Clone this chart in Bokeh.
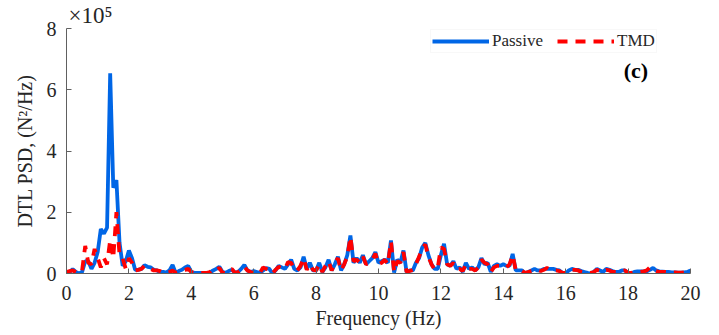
from bokeh.plotting import figure
from bokeh.models import Range1d, Label, Legend, LegendItem, FixedTicker, Title
from bokeh.embed import file_html
from bokeh.resources import INLINE

# Frequency axis (Hz), 0.1 Hz resolution
freq = [round(i * 0.1, 1) for i in range(201)]

# DTL PSD in units of 1e5 N^2/Hz
passive = [
    0.02, 0.05, 0.14, 0.05, 0.00, 0.05, 0.40, 0.40, 0.15, 0.35,
    0.70, 1.45, 1.30, 1.50, 6.54, 2.80, 3.05, 1.00, 0.25, 0.40,
    0.75, 0.50, 0.12, 0.12, 0.15, 0.27, 0.22, 0.20, 0.12, 0.10,
    0.05, 0.05, 0.03, 0.10, 0.28, 0.02, 0.08, 0.12, 0.20, 0.25,
    0.05, 0.02, 0.02, 0.02, 0.02, 0.02, 0.03, 0.10, 0.15, 0.22,
    0.05, 0.02, 0.08, 0.12, 0.03, 0.05, 0.15, 0.28, 0.10, 0.05,
    0.08, 0.05, 0.02, 0.10, 0.18, 0.15, 0.00, 0.10, 0.25, 0.20,
    0.15, 0.30, 0.45, 0.15, 0.10, 0.20, 0.55, 0.15, 0.35, 0.10,
    0.10, 0.35, 0.05, 0.20, 0.45, 0.10, 0.30, 0.55, 0.10, 0.30,
    0.60, 1.24, 0.35, 0.50, 0.35, 0.60, 0.30, 0.40, 0.50, 0.70,
    0.35, 0.40, 0.45, 0.35, 1.08, 0.03, 0.45, 0.35, 0.75, 0.05,
    0.10, 0.10, 0.35, 0.50, 0.85, 1.00, 0.60, 0.30, 0.15, 0.15,
    0.60, 0.97, 0.30, 0.25, 0.40, 0.15, 0.20, 0.05, 0.35, 0.15,
    0.20, 0.10, 0.20, 0.50, 0.30, 0.35, 0.05, 0.25, 0.30, 0.25,
    0.30, 0.25, 0.25, 0.64, 0.10, 0.10, 0.10, 0.00, 0.05, 0.10,
    0.15, 0.10, 0.10, 0.15, 0.15, 0.15, 0.15, 0.12, 0.10, 0.02,
    0.00, 0.10, 0.15, 0.12, 0.12, 0.08, 0.05, 0.02, 0.00, 0.05,
    0.15, 0.10, 0.05, 0.15, 0.12, 0.08, 0.05, 0.05, 0.10, 0.10,
    0.02, 0.00, 0.05, 0.07, 0.07, 0.07, 0.07, 0.12, 0.18, 0.10,
    0.07, 0.06, 0.05, 0.05, 0.04, 0.04, 0.03, 0.03, 0.04, 0.05,
    0.10,
]

tmd = [
    0.05, 0.08, 0.10, 0.05, 0.00, 0.10, 0.90, 0.35, 0.30, 0.80,
    0.50, 0.20, 0.50, 0.30, 1.10, 0.50, 2.00, 0.60, 0.50, 0.15,
    0.50, 0.35, 0.10, 0.12, 0.15, 0.25, 0.20, 0.15, 0.10, 0.10,
    0.08, 0.03, 0.02, 0.05, 0.10, 0.02, 0.05, 0.10, 0.12, 0.15,
    0.05, 0.02, 0.02, 0.02, 0.02, 0.02, 0.05, 0.15, 0.12, 0.18,
    0.03, 0.02, 0.10, 0.15, 0.02, 0.05, 0.12, 0.22, 0.10, 0.05,
    0.00, 0.02, 0.02, 0.20, 0.15, 0.12, 0.00, 0.12, 0.22, 0.18,
    0.15, 0.37, 0.35, 0.12, 0.10, 0.25, 0.50, 0.12, 0.30, 0.12,
    0.10, 0.30, 0.05, 0.25, 0.40, 0.10, 0.35, 0.50, 0.10, 0.30,
    0.55, 1.20, 0.40, 0.45, 0.35, 0.55, 0.30, 0.35, 0.45, 0.65,
    0.30, 0.35, 0.45, 0.30, 1.05, 0.05, 0.40, 0.35, 0.70, 0.05,
    0.08, 0.12, 0.30, 0.55, 0.80, 0.95, 0.55, 0.30, 0.12, 0.20,
    0.85, 0.80, 0.30, 0.25, 0.35, 0.15, 0.15, 0.08, 0.30, 0.15,
    0.15, 0.10, 0.20, 0.45, 0.35, 0.30, 0.05, 0.20, 0.25, 0.25,
    0.25, 0.20, 0.30, 0.60, 0.10, 0.08, 0.08, 0.02, 0.05, 0.08,
    0.10, 0.12, 0.08, 0.12, 0.18, 0.12, 0.10, 0.10, 0.08, 0.02,
    0.02, 0.08, 0.12, 0.12, 0.10, 0.05, 0.02, 0.02, 0.02, 0.05,
    0.12, 0.08, 0.05, 0.12, 0.10, 0.05, 0.05, 0.05, 0.08, 0.10,
    0.02, 0.02, 0.05, 0.05, 0.05, 0.07, 0.10, 0.20, 0.12, 0.08,
    0.05, 0.05, 0.05, 0.04, 0.04, 0.04, 0.03, 0.03, 0.04, 0.05,
    0.08,
]

x_ticks = [0, 2, 4, 6, 8, 10, 12, 14, 16, 18, 20]
y_ticks = [0, 2, 4, 6, 8]

FONT = "Liberation Serif"
DARK = "#262626"

p = figure(width=719, height=335, output_backend="svg", toolbar_location=None,
           x_range=Range1d(0, 20), y_range=Range1d(0, 8),
           min_border_left=66, min_border_right=29, min_border_top=28,
           min_border_bottom=62)
p.outline_line_color = None
p.xgrid.visible = False
p.ygrid.visible = False
p.background_fill_color = "white"

l1 = p.line(freq, passive, line_color="#0066E6", line_width=3.8)
l2 = p.line(freq, tmd, line_color="#FF0000", line_width=3.8, line_dash="10 8")

for ax in (p.xaxis, p.yaxis):
    ax.axis_line_color = "#606060"
    ax.major_tick_line_color = "#606060"
    ax.major_tick_in = 5
    ax.major_tick_out = 0
    ax.minor_tick_line_color = None
    ax.major_label_text_font = FONT
    ax.major_label_text_font_size = "20px"
    ax.major_label_text_color = DARK
    ax.axis_label_text_font = FONT
    ax.axis_label_text_font_size = "20px"
    ax.axis_label_text_font_style = "normal"
    ax.axis_label_text_color = DARK

p.xaxis.ticker = FixedTicker(ticks=x_ticks)
p.yaxis.ticker = FixedTicker(ticks=y_ticks)
p.xaxis.major_label_standoff = 12
p.yaxis.major_label_standoff = 10
p.xaxis.axis_label = "Frequency (Hz)"
p.yaxis.axis_label = "DTL PSD, (N\u00b2/Hz)"
p.xaxis.axis_label_standoff = 4
p.yaxis.axis_label_standoff = 8

# x10^5 multiplier above the y axis
p.add_layout(Title(text="\u00d710\u2075", align="left", offset=2, standoff=1,
                   text_font=FONT, text_font_size="23px", text_font_style="normal",
                   text_color=DARK), "above")

# panel tag
p.add_layout(Label(x=18.25, y=6.63, text="(c)", text_font=FONT, text_font_size="22px",
                   text_font_style="bold", text_color="black", text_align="center",
                   text_baseline="middle"))

legend = Legend(items=[LegendItem(label="Passive", renderers=[l1]),
                       LegendItem(label="TMD", renderers=[l2])],
                orientation="horizontal", location=(364, 220))
legend.label_text_font = FONT
legend.label_text_font_size = "17px"
legend.label_text_color = DARK
legend.glyph_width = 57
legend.label_standoff = 3
legend.spacing = 14
legend.padding = 1
legend.margin = 0
legend.label_height = 18
legend.border_line_color = "#f2f2f2"
legend.background_fill_alpha = 1.0
p.add_layout(legend)

open("out.html", "w").write(file_html(p, INLINE))
